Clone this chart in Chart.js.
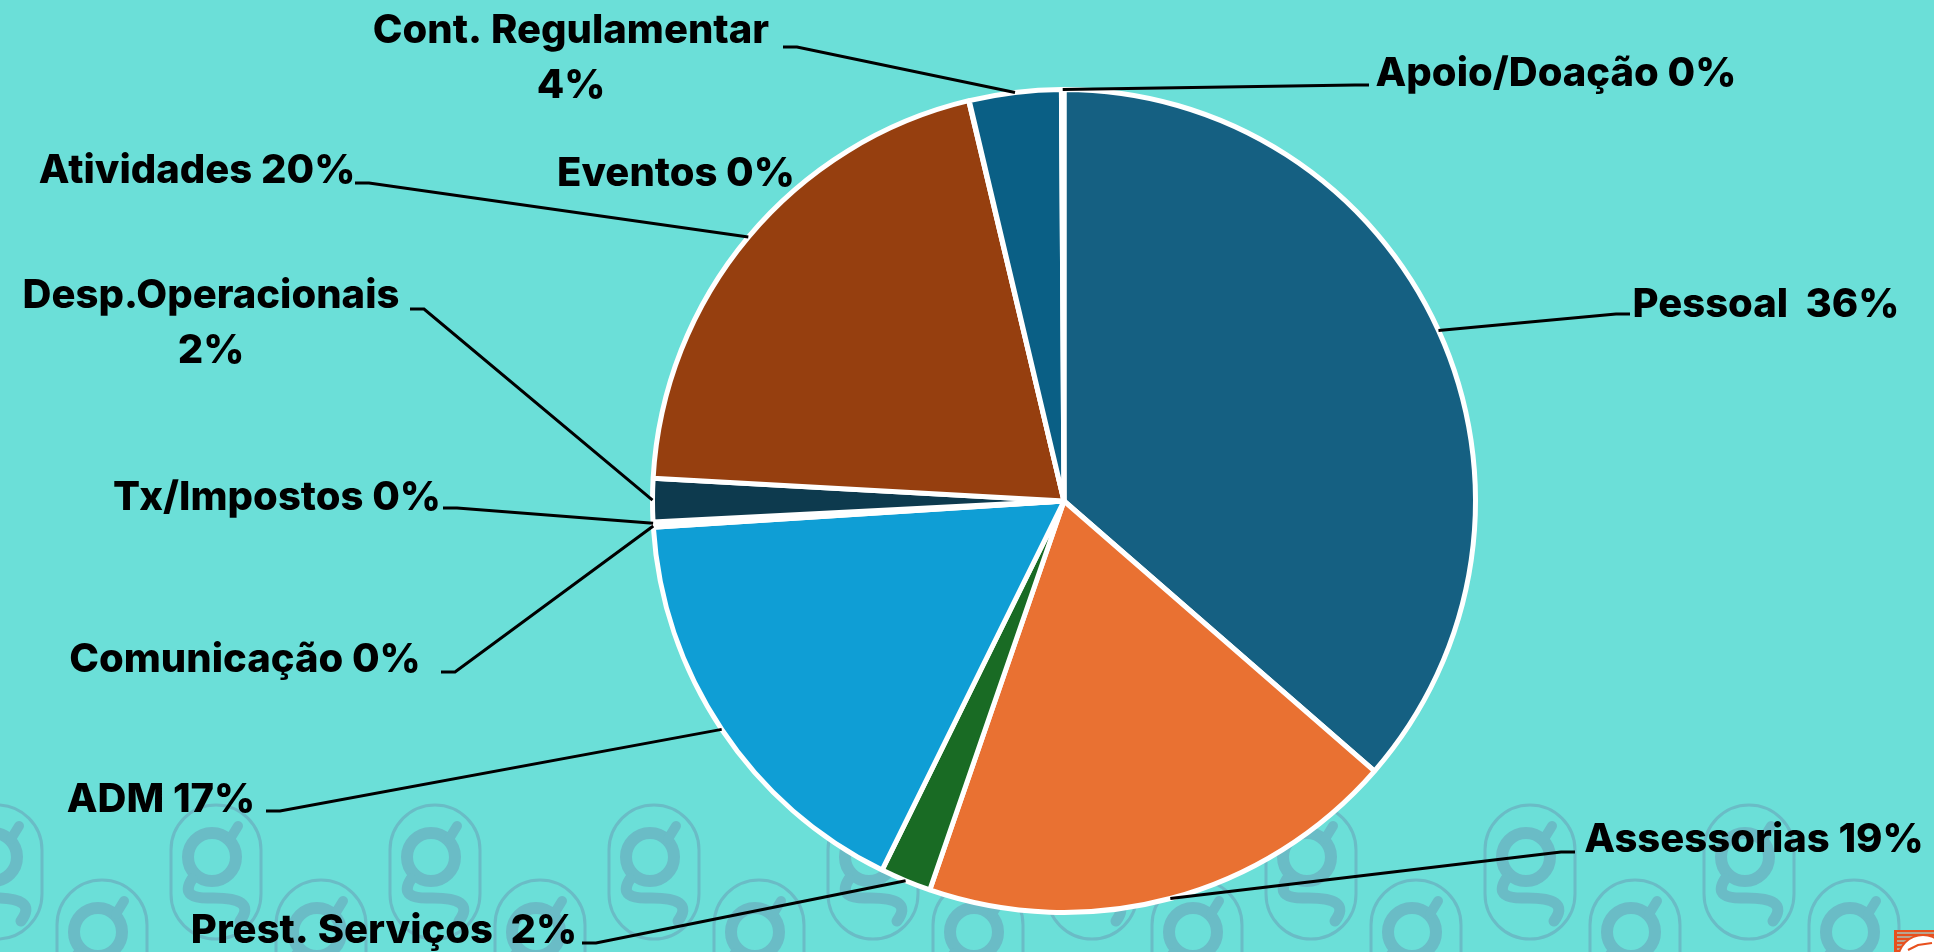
<!DOCTYPE html>
<html lang="pt">
<head>
<meta charset="UTF-8">
<title>Despesas</title>
<script src="https://cdn.jsdelivr.net/npm/chart.js"></script>
<style>
  html, body { margin: 0; padding: 0; background: #6BDFD8; overflow: hidden; }
  #wrap { position: relative; width: 1934px; height: 952px; }
</style>
</head>
<body>
<div id="wrap"><canvas id="pie" width="1934" height="952"></canvas></div>
<script>
  // clockwise from 12 o'clock
  const categories = ['Pessoal', 'Assessorias', 'Prest. Serviços', 'ADM', 'Comunicação', 'Tx/Impostos',
    'Desp.Operacionais', 'Atividades', 'Eventos', 'Cont. Regulamentar', 'Apoio/Doação'];
  const shares = [36.4, 18.9, 2.0, 16.7, 0.1, 0.1, 1.7, 20.4, 0.02, 3.6, 0.1];
  const sliceLabels = [['Pessoal  36%'], ['Assessorias 19%'], ['Prest. Serviços  2%'], ['ADM 17%'], ['Comunicação 0%'],
    ['Tx/Impostos 0%'], ['Desp.Operacionais', '2%'], ['Atividades 20%'], ['Eventos 0%'], ['Cont. Regulamentar', '4%'], ['Apoio/Doação 0%']];
  const sliceColors = ['#156082', '#E97132', '#196B24', '#0F9ED5', '#F8E8F6', '#FFFFFF',
    '#0D3A4E', '#963F0F', '#5F1A58', '#0A5F85', '#FFFFFF'];

  // label placement: text centre x, first baseline y, elbow x/y (no elbow = no leader)
  const labelPlaces = [
    { x: 1766, y: 317, ex: 1616, ey: 314 },
    { x: 1754, y: 852, ex: 1561, ey: 852 },
    { x: 384, y: 943, ex: 596, ey: 943 },
    { x: 161, y: 812, ex: 280, ey: 811 },
    { x: 245, y: 672, ex: 455, ey: 672 },
    { x: 277, y: 510, ex: 457, ey: 508 },
    { x: 211, y: 308, ex: 424, ey: 309, lineGap: 55 },
    { x: 197, y: 183, ex: 369, ey: 183 },
    { x: 676, y: 186 },
    { x: 571, y: 43, ex: 797, ey: 47, lineGap: 55 },
    { x: 1556, y: 86, ex: 1355, ey: 85 }
  ];

  const labelFont = '800 40px Inter, "Liberation Sans", sans-serif';
  const markColor = '#6ABCC6';

  function drawMark(ctx, cx, top) {
    ctx.save();
    ctx.strokeStyle = markColor;
    ctx.lineCap = 'round';
    ctx.lineWidth = 3;
    ctx.beginPath();
    ctx.roundRect(cx - 45, top, 90, 134, 45);
    ctx.stroke();
    ctx.lineWidth = 12;
    ctx.beginPath();
    ctx.arc(cx - 4, top + 52, 24, 0, Math.PI * 2);
    ctx.stroke();
    ctx.lineWidth = 10;
    ctx.beginPath();
    ctx.moveTo(cx + 14, top + 34);
    ctx.lineTo(cx + 22, top + 21);
    ctx.stroke();
    ctx.lineWidth = 11;
    ctx.beginPath();
    ctx.moveTo(cx - 24, top + 74);
    ctx.bezierCurveTo(cx - 34, top + 90, cx - 22, top + 93, cx - 8, top + 93);
    ctx.bezierCurveTo(cx + 26, top + 92, cx + 36, top + 100, cx + 24, top + 116);
    ctx.stroke();
    ctx.restore();
  }

  const watermark = {
    id: 'watermark',
    beforeDraw(chart) {
      const ctx = chart.ctx;
      for (let x = -3; x < 1934; x += 219) drawMark(ctx, x, 805);
      for (let x = 102; x < 1934; x += 219) drawMark(ctx, x, 880);
    }
  };

  const leaders = {
    id: 'leaders',
    afterDatasetsDraw(chart) {
      const ctx = chart.ctx;
      const arcs = chart.getDatasetMeta(0).data;
      ctx.save();
      ctx.strokeStyle = '#000';
      ctx.lineWidth = 3;
      ctx.fillStyle = '#000';
      ctx.font = labelFont;
      ctx.textAlign = 'center';
      ctx.textBaseline = 'alphabetic';
      arcs.forEach((arc, i) => {
        const place = labelPlaces[i];
        if (place.ex !== undefined) {
          const mid = (arc.startAngle + arc.endAngle) / 2;
          ctx.beginPath();
          ctx.moveTo(arc.x + Math.cos(mid) * arc.outerRadius, arc.y + Math.sin(mid) * arc.outerRadius);
          ctx.lineTo(place.ex, place.ey);
          ctx.lineTo(place.ex + (place.ex < arc.x ? -14 : 14), place.ey);
          ctx.stroke();
        }
        sliceLabels[i].forEach((line, n) => {
          ctx.fillText(line, place.x, place.y + n * (place.lineGap || 0));
        });
      });
      ctx.restore();
    }
  };

  // small logo cut off by the bottom right corner
  const cornerLogo = {
    id: 'cornerLogo',
    afterDraw(chart) {
      const ctx = chart.ctx;
      ctx.save();
      ctx.fillStyle = '#B9A48F';
      ctx.fillRect(1894, 930, 40, 22);
      ctx.fillStyle = '#E8501E';
      ctx.fillRect(1894, 930, 3, 22);
      for (let y = 930; y < 952; y += 4) ctx.fillRect(1894, y, 40, 2);
      ctx.beginPath();
      ctx.arc(1923, 960, 26, 0, Math.PI * 2);
      ctx.fill();
      ctx.fillStyle = '#FFFFFF';
      ctx.beginPath();
      ctx.arc(1923, 960, 24, 0, Math.PI * 2);
      ctx.fill();
      ctx.strokeStyle = '#E8501E';
      ctx.lineWidth = 2;
      ctx.beginPath();
      ctx.moveTo(1908, 950);
      ctx.lineTo(1918, 945);
      ctx.lineTo(1932, 943);
      ctx.stroke();
      ctx.restore();
    }
  };

  new Chart(document.getElementById('pie'), {
    type: 'pie',
    data: {
      labels: categories,
      datasets: [{
        data: shares,
        backgroundColor: sliceColors,
        borderColor: '#FFFFFF',
        borderWidth: 5
      }]
    },
    options: {
      responsive: false,
      animation: false,
      layout: { padding: { left: 650, right: 456, top: 87, bottom: 37 } },
      plugins: { legend: { display: false }, tooltip: { enabled: false } }
    },
    plugins: [watermark, leaders, cornerLogo]
  });
</script>
</body>
</html>
